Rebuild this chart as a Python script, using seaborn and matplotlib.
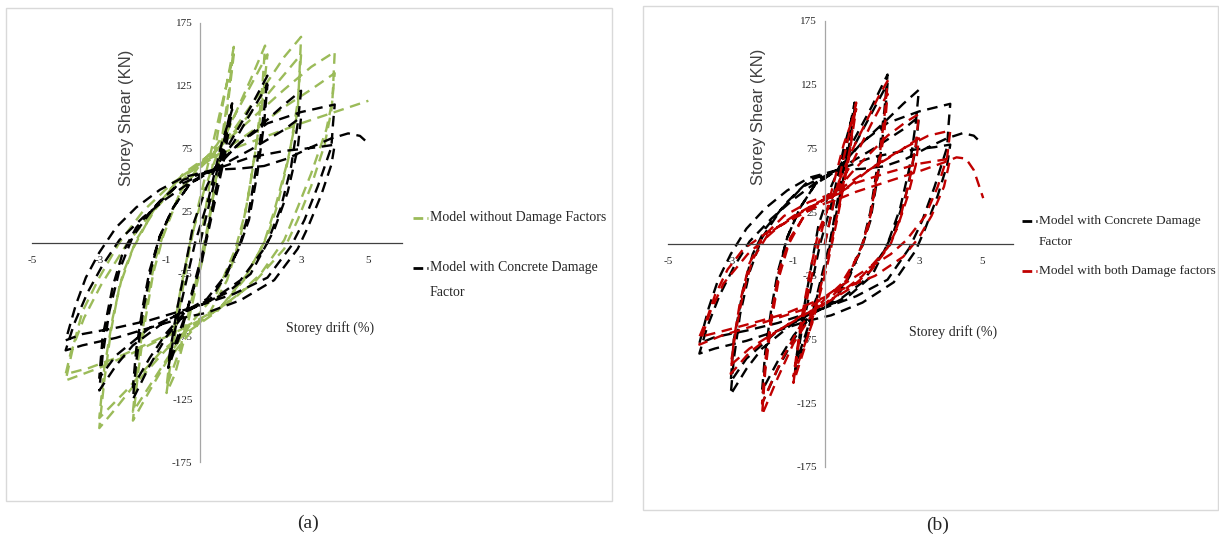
import matplotlib
matplotlib.use("Agg")
import matplotlib.pyplot as plt
import pandas as pd
import seaborn as sns
from matplotlib.lines import Line2D
from matplotlib.patches import Rectangle

# ---------------------------------------------------------------------------
# Cyclic push-over results: (storey drift %, storey shear kN) in load order
# ---------------------------------------------------------------------------
no_damage_loops = [
    (0, 0), (0.3, 50), (0.6, 100), (0.85, 135), (1.0, 156),
    (0.85, 120), (0.6, 75), (0.35, 30), (0.1, -10), (-0.2, -45), (-0.5, -80), (-0.75, -105), (-1.0, -120),
    (-0.85, -90), (-0.6, -50), (-0.35, -10), (-0.05, 30), (0.3, 70), (0.6, 105), (1.0, 150),
    (0.8, 105), (0.5, 55), (0.2, 10), (-0.2, -40), (-0.6, -85), (-1.0, -115),
    (-0.85, -80), (-0.6, -40), (-0.3, 0), (0.1, 40), (0.5, 70), (1.0, 100), (1.5, 130), (1.93, 157),
    (1.85, 125), (1.7, 85), (1.45, 40), (1.2, 5), (0.8, -30), (0.3, -55), (-0.3, -72), (-1.0, -95), (-1.5, -118), (-2.0, -142),
    (-1.85, -105), (-1.65, -65), (-1.4, -25), (-1.1, 5), (-0.6, 40), (0.0, 62), (0.5, 78), (1.0, 100), (1.5, 125), (2.0, 150),
    (1.85, 112), (1.6, 65), (1.35, 25), (1.05, -5), (0.5, -40), (-0.2, -62), (-0.8, -85), (-1.4, -110), (-2.0, -135),
    (-1.85, -95), (-1.6, -50), (-1.35, -15), (-1.0, 15), (-0.5, 45), (0.2, 65), (1.0, 90), (2.0, 128), (2.5, 148), (3.0, 164),
    (2.95, 135), (2.9, 105), (2.6, 65), (2.2, 25), (1.9, 0), (1.3, -30), (0.5, -55), (-0.3, -70), (-1.0, -85), (-2.0, -115), (-2.5, -132), (-3.0, -148),
    (-2.85, -110), (-2.65, -70), (-2.4, -35), (-2.0, -5), (-1.4, 25), (-0.6, 52), (0.3, 68), (1.0, 88), (2.0, 118), (3.0, 150),
    (2.9, 112), (2.65, 70), (2.3, 30), (2.0, 5), (1.4, -25), (0.6, -52), (-0.3, -68), (-1.2, -88), (-2.2, -118), (-3.0, -140),
    (-2.85, -100), (-2.6, -60), (-2.3, -25), (-1.9, 2), (-1.3, 28), (-0.5, 55), (0.4, 72), (1.5, 98), (2.5, 122), (3.3, 140), (4.0, 152),
    (3.97, 135), (3.93, 113), (3.75, 90), (3.3, 55), (2.9, 28), (2.5, 2), (1.8, -25), (1.0, -45), (0.0, -62), (-1.0, -75), (-2.0, -88), (-3.0, -100), (-4.0, -110),
    (-3.75, -80), (-3.5, -55), (-3.0, -28), (-2.4, 0), (-1.7, 25), (-0.8, 48), (0.3, 66), (1.5, 88), (2.5, 108), (3.3, 122), (4.0, 135),
    (3.9, 105), (3.7, 78), (3.3, 45), (2.9, 18), (2.5, -5), (1.6, -32), (0.6, -52), (-0.5, -68), (-1.5, -80), (-2.5, -92), (-3.3, -100), (-4.0, -105),
    (-3.85, -88), (-3.45, -60), (-2.95, -34), (-2.2, -2), (-1.5, 22), (-0.7, 45), (0.0, 64), (1.0, 75), (2.0, 85), (3.0, 95), (4.0, 104), (5.0, 113),
]

concrete_damage_loops = [
    (0, 0), (0.35, 40), (0.7, 80), (0.95, 111),
    (0.75, 80), (0.45, 40), (0.15, 0), (-0.2, -35), (-0.55, -70), (-0.95, -100),
    (-0.75, -70), (-0.45, -35), (-0.15, 0), (0.25, 35), (0.6, 75), (0.95, 106),
    (0.7, 65), (0.35, 22), (0.05, -15), (-0.4, -55), (-0.95, -96),
    (-0.7, -55), (-0.45, -20), (-0.2, 15), (0.2, 45), (0.5, 62), (1.0, 85), (1.5, 108), (2.0, 133),
    (1.9, 105), (1.7, 65), (1.45, 25), (1.2, 0), (0.8, -25), (0.3, -45), (-0.4, -55), (-1.0, -75), (-1.5, -98), (-2.0, -125),
    (-1.9, -95), (-1.7, -55), (-1.45, -20), (-1.2, 5), (-0.8, 28), (-0.3, 47), (0.4, 58), (1.0, 80), (1.5, 103), (2.0, 126),
    (1.9, 95), (1.7, 55), (1.45, 18), (1.15, -5), (0.7, -28), (0.2, -45), (-0.4, -54), (-1.0, -72), (-1.5, -92), (-2.0, -115),
    (-1.9, -85), (-1.7, -50), (-1.5, -22), (-1.2, 5), (-0.8, 28), (-0.3, 47), (0.4, 58), (1.0, 75), (2.0, 98), (2.5, 110), (3.0, 121),
    (2.9, 95), (2.7, 60), (2.4, 28), (2.0, 0), (1.5, -25), (0.8, -40), (0.0, -50), (-0.4, -54), (-1.0, -62), (-2.0, -82), (-2.5, -98), (-3.0, -118),
    (-2.9, -90), (-2.7, -55), (-2.4, -22), (-2.0, 5), (-1.4, 27), (-0.7, 45), (0.4, 58), (1.5, 74), (2.5, 90), (3.0, 100),
    (2.9, 75), (2.6, 40), (2.2, 10), (1.9, -5), (1.2, -30), (0.4, -45), (-0.4, -54), (-1.5, -68), (-2.5, -90), (-3.0, -108),
    (-2.9, -75), (-2.6, -35), (-2.3, -8), (-1.9, 12), (-1.2, 33), (-0.5, 50), (0.4, 58), (1.2, 80), (2.0, 95), (3.0, 104), (4.0, 110),
    (3.95, 95), (3.9, 76), (3.5, 45), (3.1, 18), (2.7, -3), (2.0, -28), (1.0, -41), (0.0, -50), (-0.5, -54), (-1.5, -62), (-2.5, -68), (-3.5, -73), (-4.0, -78),
    (-3.7, -50), (-3.4, -28), (-3.0, -8), (-2.5, 12), (-1.9, 28), (-1.2, 42), (-0.5, 52), (0.4, 58), (1.5, 68), (2.5, 73), (3.5, 76), (4.0, 78),
    (3.9, 62), (3.6, 38), (3.2, 12), (2.9, -5), (2.2, -30), (1.2, -46), (0.2, -56), (-0.5, -60), (-1.5, -68), (-2.5, -76), (-3.5, -82), (-4.0, -86),
    (-3.75, -65), (-3.35, -40), (-2.9, -18), (-2.4, 2), (-1.7, 20), (-1.0, 35), (-0.3, 48), (0.4, 58), (1.2, 59), (1.9, 61),
    (2.6, 67), (3.3, 76), (3.9, 83), (4.4, 87), (4.75, 85), (5.0, 79),
]

both_damage_loops = [
    (0, 0), (0.35, 40), (0.7, 78), (1.0, 111),
    (0.8, 75), (0.5, 35), (0.2, 0), (-0.2, -40), (-0.6, -78), (-1.0, -109),
    (-0.8, -72), (-0.5, -35), (-0.2, 0), (0.2, 40), (0.6, 78), (1.0, 106),
    (0.75, 65), (0.4, 20), (0.05, -20), (-0.4, -62), (-1.0, -104),
    (-0.75, -60), (-0.5, -25), (-0.2, 10), (0.3, 40), (0.8, 70), (1.3, 95), (1.7, 115), (2.0, 128),
    (1.9, 100), (1.7, 60), (1.45, 22), (1.2, 0), (0.7, -28), (0.1, -45), (-0.4, -55), (-1.0, -78), (-1.5, -105), (-2.0, -134),
    (-1.9, -100), (-1.7, -60), (-1.45, -25), (-1.15, 0), (-0.6, 25), (0.3, 40), (0.9, 65), (1.5, 95), (2.0, 118),
    (1.9, 88), (1.65, 50), (1.4, 15), (1.1, -8), (0.5, -32), (-0.2, -48), (-0.8, -65), (-1.4, -92), (-2.0, -125),
    (-1.9, -92), (-1.7, -55), (-1.45, -20), (-1.1, 5), (-0.5, 28), (0.3, 40), (1.0, 60), (2.0, 85), (2.6, 96), (3.0, 102),
    (2.9, 78), (2.7, 50), (2.4, 20), (2.1, 0), (1.5, -20), (0.8, -35), (0.0, -47), (-0.8, -57), (-1.6, -70), (-2.4, -85), (-3.0, -102),
    (-2.9, -75), (-2.7, -45), (-2.4, -15), (-2.0, 5), (-1.3, 22), (-0.5, 33), (0.3, 40), (1.2, 55), (2.2, 70), (3.0, 83),
    (2.9, 62), (2.65, 38), (2.3, 12), (2.0, -3), (1.2, -25), (0.3, -42), (-0.6, -55), (-1.5, -68), (-2.4, -82), (-3.0, -95),
    (-2.85, -70), (-2.6, -38), (-2.3, -12), (-1.8, 8), (-1.0, 22), (-0.2, 33), (0.5, 40), (1.5, 60), (2.5, 75), (3.3, 85), (4.0, 89),
    (3.9, 68), (3.6, 45), (3.2, 22), (2.6, 3), (2.1, -8), (1.2, -22), (0.2, -38), (-0.5, -50), (-1.5, -58), (-2.5, -66), (-3.3, -72), (-4.0, -79),
    (-3.65, -53), (-3.23, -31), (-2.46, -8), (-2.1, 0), (-1.5, 13), (-0.55, 28), (0.3, 38), (1.0, 48), (2.0, 56), (3.0, 63), (4.0, 67),
    (3.8, 45), (3.4, 22), (3.0, 5), (2.5, -10), (1.6, -25), (0.6, -35), (-0.3, -45), (-1.3, -55), (-2.3, -62), (-3.2, -68), (-4.0, -73),
    (-3.75, -58), (-3.5, -40), (-3.1, -20), (-2.6, -4), (-1.9, 8), (-1.0, 20), (-0.2, 30), (0.5, 36), (1.0, 41), (2.0, 49), (3.0, 57),
    (3.8, 64), (4.2, 68), (4.5, 67), (4.75, 58), (5.05, 36),
]

drift_ticks = [-5, -3, -1, 1, 3, 5]
shear_ticks = [-175, -125, -75, -25, 25, 75, 125, 175]

label_no_damage = "Model without Damage Factors"
label_concrete = ["Model with Concrete Damage", "Factor"]
label_both = "Model with both Damage factors"

GREEN = "#9BBB59"
BLACK = "#000000"
RED = "#C00000"
DASH = (0, (4.5, 2.8))

sns.set_theme(style="white")
plt.rcParams["font.family"] = ["Liberation Serif", "DejaVu Serif"]

W, H = 1219, 544
fig = plt.figure(figsize=(W / 100, H / 100), dpi=100)


def fx(x):
    return x / W


def fy(y):
    return 1 - y / H


def px_axes(left, top, right, bottom):
    return fig.add_axes([fx(left), fy(bottom), (right - left) / W, (bottom - top) / H])


def frame(points):
    return pd.DataFrame(points, columns=["drift", "shear"]).reset_index(names="step")


def draw_loops(ax, points, color):
    sns.lineplot(data=frame(points), x="drift", y="shear", sort=False, estimator=None,
                 color=color, lw=1.7, linestyle=DASH, ax=ax, legend=False)


def style_axes(ax):
    ax.set_xlim(-5, 6)
    ax.set_ylim(-175, 175)
    ax.patch.set_visible(False)
    for side in ("top", "right"):
        ax.spines[side].set_visible(False)
    ax.spines["left"].set_position(("data", 0))
    ax.spines["bottom"].set_position(("data", 0))
    ax.spines["left"].set_color("#A6A6A6")
    ax.spines["bottom"].set_color("#404040")
    ax.spines["left"].set_linewidth(0.9)
    ax.spines["bottom"].set_linewidth(0.9)
    ax.set_xticks(drift_ticks)
    ax.set_yticks(shear_ticks)
    ax.set_xticklabels([str(t) for t in drift_ticks])
    ax.set_yticklabels([str(t) for t in shear_ticks])
    ax.tick_params(length=0, labelsize=8, colors="#262626")
    ax.tick_params(axis="x", pad=9.5)
    ax.tick_params(axis="y", pad=5.5)
    ax.set_axisbelow(True)
    ax.set_xlabel("")
    ax.set_ylabel("")
    ax.grid(False)


def legend_entry(x, y, color):
    fig.add_artist(Line2D([fx(x), fx(x + 15)], [fy(y), fy(y)], color=color, lw=2,
                          linestyle=(0, (3.5, 1.5)), transform=fig.transFigure))


# panel outlines
fig.add_artist(Rectangle((fx(6), fy(501)), (612 - 6) / W, (501 - 8) / H, fill=False,
                         edgecolor="#D9D9D9", lw=1, transform=fig.transFigure))
fig.add_artist(Rectangle((fx(643), fy(510)), (1218 - 643) / W, (510 - 6) / H, fill=False,
                         edgecolor="#D9D9D9", lw=1, transform=fig.transFigure))

# (a) without damage vs concrete damage
ax_a = px_axes(32, 23, 402, 462)
draw_loops(ax_a, no_damage_loops, GREEN)
draw_loops(ax_a, concrete_damage_loops, BLACK)
style_axes(ax_a)

# (b) concrete damage vs both damage factors
ax_b = px_axes(668, 21, 1013, 467)
draw_loops(ax_b, concrete_damage_loops, BLACK)
draw_loops(ax_b, both_damage_loops, RED)
style_axes(ax_b)

# axis titles
fig.text(fx(127), fy(118), "Storey Shear (KN)", rotation=90, ha="center", va="center",
         fontsize=12, family=["Liberation Sans", "DejaVu Sans"], color="#404040")
fig.text(fx(330), fy(328), "Storey drift (%)", ha="center", va="center", fontsize=10, color="#262626")
fig.text(fx(758), fy(117), "Storey Shear (KN)", rotation=90, ha="center", va="center",
         fontsize=12, family=["Liberation Sans", "DejaVu Sans"], color="#404040")
fig.text(fx(953), fy(332), "Storey drift (%)", ha="center", va="center", fontsize=10, color="#262626")

# legends
legend_entry(413, 218, GREEN)
fig.text(fx(430), fy(218), label_no_damage, va="center", ha="left", fontsize=10)
legend_entry(413, 268, BLACK)
fig.text(fx(430), fy(268), label_concrete[0], va="center", ha="left", fontsize=10)
fig.text(fx(430), fy(293), label_concrete[1], va="center", ha="left", fontsize=10)

legend_entry(1022, 221, BLACK)
fig.text(fx(1039), fy(221), label_concrete[0], va="center", ha="left", fontsize=9.6)
fig.text(fx(1039), fy(242), label_concrete[1], va="center", ha="left", fontsize=9.6)
legend_entry(1022, 271, RED)
fig.text(fx(1039), fy(271), label_both, va="center", ha="left", fontsize=9.6)

# panel captions
fig.text(fx(308), fy(523), "(a)", ha="center", va="center", fontsize=14)
fig.text(fx(938), fy(525), "(b)", ha="center", va="center", fontsize=14)

fig.savefig("out.png", dpi=100, facecolor="white")
